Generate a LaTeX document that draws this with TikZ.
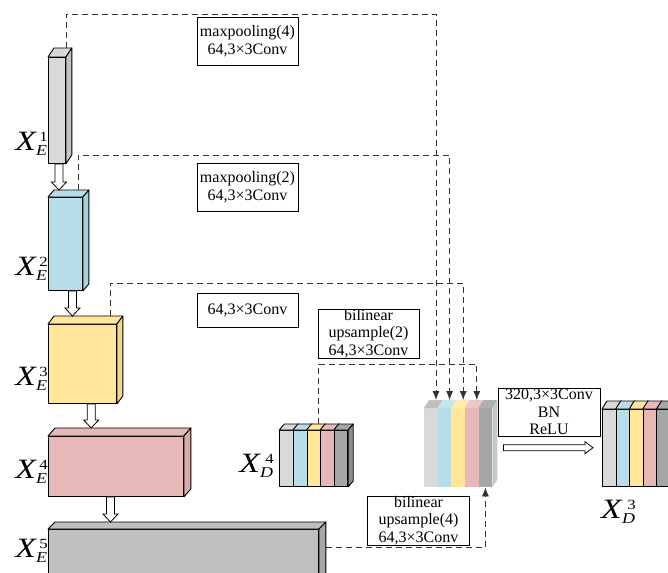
\documentclass[tikz,border=0pt]{standalone}
\usepackage{fontspec}
\setmainfont{Liberation Serif}
\usetikzlibrary{arrows.meta,calc}
\definecolor{cgray}{HTML}{D9D9D9}
\definecolor{cgrayS}{HTML}{C4C4C4}
\definecolor{cblue}{HTML}{B7DEE8}
\definecolor{cblueS}{HTML}{A6D2DE}
\definecolor{cyel}{HTML}{FFE699}
\definecolor{cyelS}{HTML}{F2D88A}
\definecolor{cpink}{HTML}{E6B9B8}
\definecolor{cpinkS}{HTML}{D9AAA9}
\definecolor{cmid}{HTML}{BFBFBF}
\definecolor{cmidS}{HTML}{A6A6A6}
\definecolor{cdark}{HTML}{A6A6A6}
\definecolor{cdarkS}{HTML}{8C8C8C}
\tikzset{
 blk/.style={draw=black, line width=0.9pt, line join=round},
 flat/.style={draw=none},
 lbox/.style={draw=black, line width=0.8pt, fill=white, align=center, inner sep=0pt,
   font=\fontsize{16}{17.5}\selectfont},
 dline/.style={draw=black!80, line width=0.8pt, dash pattern=on 6pt off 4pt},
 tipA/.style={-{Latex[length=9pt,width=7pt]}},
 harrow/.style={draw=black, line width=0.8pt, fill=white, line join=miter},
 xlab/.style={inner sep=0pt},
}
\newcommand\face[6][blk]{%
 \node[#1, minimum width=#5pt, minimum height=#6pt, anchor=north west, inner sep=0pt] (#2) at (#3,#4) {};}
\newcommand\topface[5][blk]{%
 \path[#1, fill=#5] (#2.north west) -- ++(#3,-#4) -- ([shift={(#3,-#4)}]#2.north east) -- (#2.north east) -- cycle;}
\newcommand\sideface[5][blk]{%
 \path[#1, fill=#5] (#2.north east) -- ++(#3,-#4) -- ([shift={(#3,-#4)}]#2.south east) -- (#2.south east) -- cycle;}
\newcommand\hdown[2]{\draw[harrow] let \p1=(#1), \p2=(#2) in
 (\x1-4pt,\y1) -- (\x1-4pt,\y2+8pt) -- (\x1-7.5pt,\y2+8pt) -- (\x1,\y2) -- (\x1+7.5pt,\y2+8pt) -- (\x1+4pt,\y2+8pt) -- (\x1+4pt,\y1) -- cycle;}
\newcommand\hright[2]{\draw[harrow] let \p1=(#1), \p2=(#2) in
 (\x1,\y1+3pt) -- (\x2-8pt,\y1+3pt) -- (\x2-8pt,\y1+6pt) -- (\x2,\y1) -- (\x2-8pt,\y1-6pt) -- (\x2-8pt,\y1-3pt) -- (\x1,\y1-3pt) -- cycle;}
\newcommand\xl[2]{\scalebox{1.2}[1]{\fontsize{28}{28}\selectfont\itshape X\kern0.3pt\raisebox{-5.5pt}{\fontsize{15}{15}\selectfont #1}\kern-6.5pt\raisebox{8.5pt}{\fontsize{14}{14}\selectfont\upshape #2}}}
\begin{document}
\begin{tikzpicture}[x=1pt,y=-1pt]
\useasboundingbox (0,0) rectangle (668,572);
\clip (0,0) rectangle (668,572);
% encoder blocks
\face[blk,fill=cgray]{e1}{48}{57}{17}{106}
\topface{e1}{6}{9}{cgray}\sideface{e1}{6}{9}{cgrayS}
\face[blk,fill=cblue]{e2}{48}{197}{34}{93}
\topface{e2}{6}{7}{cblue}\sideface{e2}{6}{7}{cblueS}
\face[blk,fill=cyel]{e3}{48}{324}{68}{79}
\topface{e3}{6}{8}{cyel}\sideface{e3}{6}{8}{cyelS}
\face[blk,fill=cpink]{e4}{48}{436}{135}{60}
\topface{e4}{7}{8}{cpink}\sideface{e4}{7}{8}{cpinkS}
\face[blk,fill=cmid]{e5}{48}{529}{270}{60}
\topface{e5}{7}{7}{cmid}\sideface{e5}{7}{7}{cmidS}
% labels
\node[xlab, anchor=base east] (l1) at (48,150) {\xl{E}{1}};
\node[xlab, anchor=base east] (l2) at (48,275) {\xl{E}{2}};
\node[xlab, anchor=base east] (l3) at (48,385) {\xl{E}{3}};
\node[xlab, anchor=base east] (l4) at (48,478) {\xl{E}{4}};
\node[xlab, anchor=base east] (l5) at (48,557) {\xl{E}{5}};
% hollow arrows
\hdown{[xshift=2pt]e1.south}{[yshift=7pt]e2.north}
\hdown{[xshift=7pt]e2.south}{[yshift=8pt]e3.north}
\hdown{[xshift=8.7pt]e3.south}{[yshift=8pt]e4.north}
\hdown{[xshift=-5.5pt]e4.south}{[yshift=7pt]e5.north}
% X_D^4
\face[blk,fill=cgray]{da}{279.3}{430}{13.6}{56}
\face[blk,fill=cblue]{db}{292.9}{430}{13.6}{56}
\face[blk,fill=cyel]{dc}{306.5}{430}{13.6}{56}
\face[blk,fill=cpink]{dd}{320.1}{430}{13.6}{56}
\face[blk,fill=cdark]{de}{333.7}{430}{13.6}{56}
\topface{da}{5}{6}{cgray}\topface{db}{5}{6}{cblue}\topface{dc}{5}{6}{cyel}
\topface{dd}{5}{6}{cpink}\topface{de}{5}{6}{cdark}\sideface{de}{5}{6}{cdarkS}
\node[xlab, anchor=base east] (ld4) at (274,472) {\xl{D}{4}};
% fused block
\face[flat,fill=cgray]{fa}{424}{408}{13.6}{79}
\face[flat,fill=cblue]{fb}{437.6}{408}{13.6}{79}
\face[flat,fill=cyel]{fc}{451.2}{408}{13.6}{79}
\face[flat,fill=cpink]{fd}{464.8}{408}{13.6}{79}
\face[flat,fill=cdark]{fe}{478.4}{408}{13.6}{79}
\topface[flat]{fa}{5}{8}{cgray!85!black!90}\topface[flat]{fb}{5}{8}{cblue!80}
\topface[flat]{fc}{5}{8}{cyel!80}\topface[flat]{fd}{5}{8}{cpink!80}
\topface[flat]{fe}{5}{8}{cdark!90}\sideface[flat]{fe}{5}{8}{black!22}
\coordinate (t1) at ([shift={(5,-8)}]fa.north);
\coordinate (t2) at ([shift={(5,-8)}]fb.north);
\coordinate (t3) at ([shift={(5,-8)}]fc.north);
\coordinate (t4) at ([shift={(5,-8)}]fd.north);
% X_D^3
\face[blk,fill=cgray]{ga}{602}{409}{13.6}{77}
\face[blk,fill=cblue]{gb}{615.6}{409}{13.6}{77}
\face[blk,fill=cyel]{gc}{629.2}{409}{13.6}{77}
\face[blk,fill=cpink]{gd}{642.8}{409}{13.6}{77}
\face[blk,fill=cdark]{ge}{656.4}{409}{13.6}{77}
\topface{ga}{5}{8}{cgray}\topface{gb}{5}{8}{cblue}\topface{gc}{5}{8}{cyel}
\topface{gd}{5}{8}{cpink}\topface{ge}{5}{8}{cdark}
\node[xlab, anchor=base west] (ld3) at (601,518) {\xl{D}{3}};
% dashed skip connections
\coordinate (s1) at ($(e1.north east)+(0,-9)$);
\coordinate (s2) at ($(e2.north west)+(30,-7)$);
\coordinate (s3) at ($(e3.north west)+(62,-8)$);
\coordinate (s4) at ([shift={(5,-6)}]dc.north);
\coordinate (s5) at ($(e5.north east)+(7,18)$);
\draw[dline,tipA] (s1) -- ++(0,-34) -| (t1);
\draw[dline,tipA] (s2) -- ++(0,-35) -| (t2);
\draw[dline,tipA] (s3) -- ++(0,-33) -| (t3);
\draw[dline,tipA] (s4) -- ++(0,-60) -| (t4);
\draw[dline,tipA] (s5) -| (fe.south);
% text boxes
\node[lbox, minimum width=101pt, minimum height=48pt] (b1) at (247.5,41) {maxpooling(4)\\64,3×3Conv};
\node[lbox, minimum width=101pt, minimum height=48pt] (b2) at (247.5,187) {maxpooling(2)\\64,3×3Conv};
\node[lbox, minimum width=101pt, minimum height=34pt] (b3) at (247.5,310) {64,3×3Conv};
\node[lbox, minimum width=101pt, minimum height=49pt] (b4) at (368.5,333.5) {bilinear\\upsample(2)\\64,3×3Conv};
\node[lbox, minimum width=102pt, minimum height=49pt] (b5) at (418.5,520.5) {bilinear\\upsample(4)\\64,3×3Conv};
\node[lbox, minimum width=102pt, minimum height=48pt] (b6) at (549,412) {320,3×3Conv\\BN\\ReLU};
% output arrow
\hright{[xshift=11pt]fe.east}{[xshift=-9pt]ga.west}
\end{tikzpicture}
\end{document}
